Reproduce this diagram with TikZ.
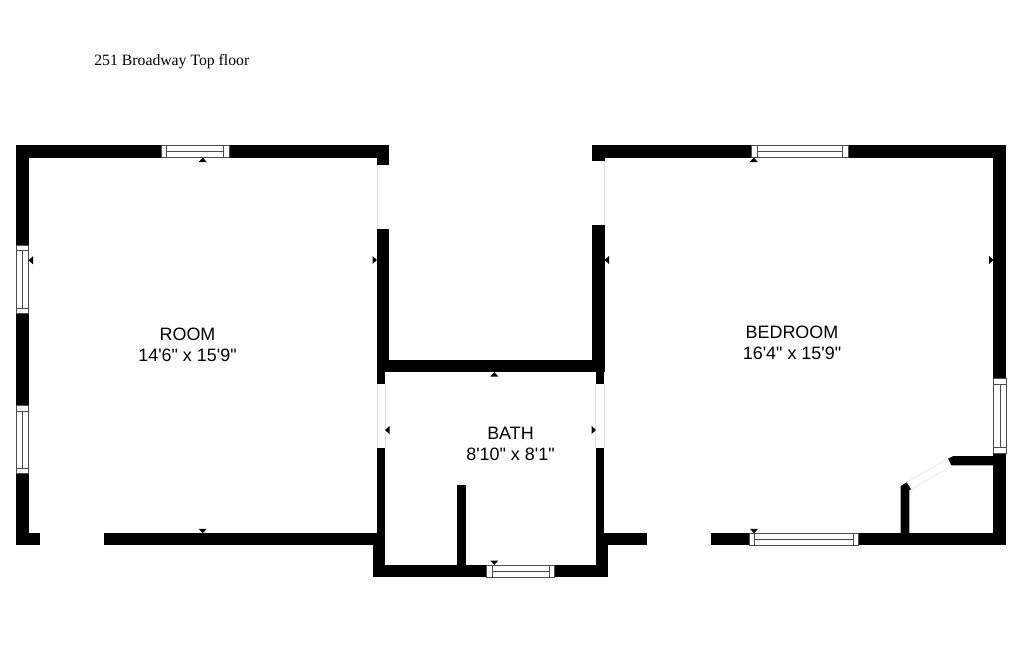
\documentclass[tikz,border=0pt]{standalone}
\usepackage{fontspec}
\newfontfamily\labelfont{Liberation Sans}
\newfontfamily\titlefont{Liberation Serif}
\tikzset{
	wall/.style={fill=black,draw=none},
	window/.style={draw=black!70,fill=white,line width=0.45pt},
	doorline/.style={draw=black!12,line width=0.3pt},
	tick/.style={fill=black,draw=none},
	roomlabel/.style={font=\labelfont\fontsize{10.2}{12}\selectfont,align=center,inner sep=0pt},
}
\begin{document}
\begin{tikzpicture}[x=0.02cm,y=-0.02cm]
	\useasboundingbox[fill=white] (0,0) rectangle (1024,659);

	% walls: x1/y1/x2/y2 in pixels
	\foreach \xa/\ya/\xb/\yb in {
		16/144.5/161/157.5, 229/144.5/389/157.5, 377/157/389/165,
		377/229/389/372, 16/157/28.5/245, 16/313.7/28.5/405.7, 16/473.7/28.5/545.3,
		16/533.3/39.7/545.3, 103.7/533.3/385/545.3,
		377/359.5/604/372, 377/372/385/384, 377/447.7/385/545.3,
		372.5/533.3/385/577.3, 372.5/564.7/486.7/577.3, 554.3/564.7/608/577.3,
		457.3/485/466/565,
		595.7/372/604/384, 595.7/447.7/604/545.3, 595.7/533.3/608/577.3,
		604/533.3/646.7/545.3,
		591.7/144.5/751.7/157.5, 848.3/144.5/1006.3/157.5, 591.7/157/604.5/161,
		591.7/225/604.5/372,
		993.3/144.5/1006.3/378.3, 993.3/453.3/1006.3/545.3,
		710.7/533.3/749.3/545.3, 858.7/533.3/1006.3/545.3}
		\fill[wall] (\xa,\ya) rectangle (\xb,\yb);

	% closet walls with slanted ends
	\fill[wall] (948,458.7) -- (953.3,456) -- (993.5,456) -- (993.5,465.3) -- (951.5,465.3) -- cycle;
	\fill[wall] (900.7,533.5) -- (900.7,486) -- (906.7,482.3) -- (911,489.3) -- (909.3,490) -- (909.3,533.5) -- cycle;

	% openings
	\draw[doorline] (377,165) -- (377,229);
	\draw[doorline] (604.5,161) -- (604.5,225);
	\draw[doorline] (377,384) -- (377,447.7);
	\draw[doorline] (385,384) -- (385,447.7);
	\draw[doorline] (595.7,384) -- (595.7,447.7);
	\draw[doorline] (604,384) -- (604,447.7);
	\draw[doorline] (906.7,482.3) -- (948,458.7);
	\draw[doorline] (911,489.3) -- (952,466);

	% horizontal windows: x1/x2/y1/y2/inset
	\foreach \xa/\xb/\ya/\yb/\xc/\xd in {
		161/229/145/157.5/166.5/223.5,
		751.7/848.3/145/157.5/757/842.7,
		749.3/858.7/533.3/545.3/754.7/853,
		486.7/554.3/565/577/492/549}{
		\draw[window] (\xa,\ya) rectangle (\xb,\yb);
		\draw[window] (\xc,\ya) -- (\xc,\yb) (\xd,\ya) -- (\xd,\yb);
		\draw[window] (\xc,{(\ya+\yb)/2}) -- (\xd,{(\ya+\yb)/2});
	}

	% vertical windows
	\foreach \xa/\xb/\ya/\yb/\yc/\yd in {
		16.5/28.5/245/313.7/250.5/308,
		16.5/28.5/405.7/473.7/411/468,
		993.8/1006/378.3/453.3/384/447.7}{
		\draw[window] (\xa,\ya) rectangle (\xb,\yb);
		\draw[window] (\xa,\yc) -- (\xb,\yc) (\xa,\yd) -- (\xb,\yd);
		\draw[window] ({(\xa+\xb)/2},\yc) -- ({(\xa+\xb)/2},\yd);
	}

	% dimension ticks
	\foreach \x/\y in {202.7/157.5, 753.7/157.5, 494.3/372}
		\fill[tick] (\x,\y) -- ++(4,4.5) -- ++(-8,0) -- cycle;
	\foreach \x/\y in {202.7/533.3, 754/533.3, 494.3/565}
		\fill[tick] (\x,\y) -- ++(4,-4.5) -- ++(-8,0) -- cycle;
	\foreach \x/\y in {28.5/260.3, 604.5/260, 385/430}
		\fill[tick] (\x,\y) -- ++(4.5,4) -- ++(0,-8) -- cycle;
	\foreach \x/\y in {377/260, 993.5/260, 596/430}
		\fill[tick] (\x,\y) -- ++(-4.5,4) -- ++(0,-8) -- cycle;

	% labels
	\node[anchor=base west,inner sep=0pt,font=\titlefont\fontsize{8.96}{10}\selectfont] (title) at (94,65) {251 Broadway Top floor};
	\node[roomlabel] (room) at (187.5,345) {ROOM\\14'6" x 15'9"};
	\node[roomlabel] (bedroom) at (792,342.5) {BEDROOM\\16'4" x 15'9"};
	\node[roomlabel] (bath) at (510.5,443.7) {BATH\\8'10" x 8'1"};
\end{tikzpicture}
\end{document}
